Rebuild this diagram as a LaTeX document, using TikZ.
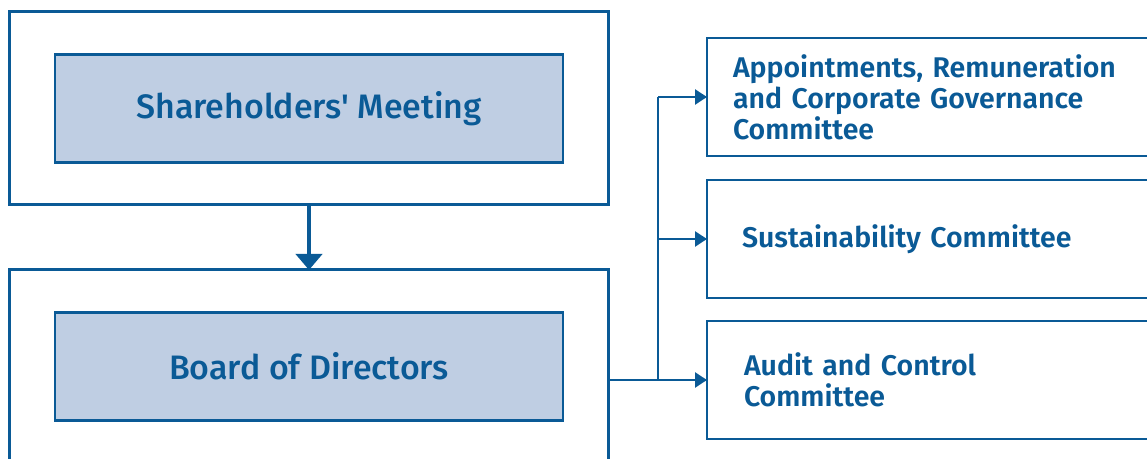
\documentclass[tikz,border=0pt]{standalone}
\usepackage{fontspec}
\setmainfont{Fira Sans}[BoldFont={Fira Sans SemiBold}]
\newfontfamily\medfont{Fira Sans Medium}
\usetikzlibrary{arrows.meta,positioning}
\definecolor{enblue}{RGB}{10,90,150}
\definecolor{enfill}{RGB}{191,206,227}

\begin{document}
\begin{tikzpicture}
\tikzstyle{outer}=[rectangle,draw=enblue,line width=0.06cm,
minimum width=11.96cm,minimum height=3.86cm,outer sep=0pt,node distance=5.16cm]
\tikzstyle{inner}=[rectangle,draw=enblue,fill=enfill,line width=0.05cm,
minimum width=10.16cm,minimum height=2.16cm,outer sep=0pt,
text=enblue,font=\fontsize{19.3}{22}\selectfont\medfont]
\tikzstyle{comm}=[rectangle,draw=enblue,line width=0.05cm,
minimum height=2.36cm,text width=8.4cm,align=left,outer sep=0pt,
text=enblue,font=\fontsize{16.2}{17.6}\selectfont\bfseries]
\tikzstyle{conn}=[draw=enblue,line width=0.05cm]

\clip (0,0) rectangle (22.94,9.18);
\node[outer] at (6.18,7.01) (sh) {};
\node[inner] at (sh) (shi) {Shareholders' Meeting};
\node[outer,below of =sh] (bd) {};
\node[inner] at (bd) (bdi) {Board of Directors};

\node[comm,anchor=west,inner xsep=0.52cm] at (14.14,7.24) (arc) {Appointments, Remuneration\\ and Corporate Governance\\ Committee};
\node[comm,below=0.48cm of arc.south west,anchor=north west,inner xsep=0.7cm] (sc) {Sustainability Committee};
\node[comm,below=0.46cm of sc.south west,anchor=north west,inner xsep=0.74cm] (acc) {Audit and Control\\ Committee};

\coordinate (tr) at (13.16,0);

\draw[conn,line width=0.08cm,-{Triangle[length=0.32cm,width=0.52cm]}] (sh.south) -- (bd.north);
\draw[conn] (acc.west -| tr) -- (arc.west -| tr);
\draw[conn,-{Triangle[length=0.24cm,width=0.3cm]}] (bd.east |- acc.west) -- (acc.west);
\draw[conn,-{Triangle[length=0.24cm,width=0.3cm]}] (sc.west -| tr) -- (sc.west);
\draw[conn,-{Triangle[length=0.24cm,width=0.3cm]}] (arc.west -| tr) -- (arc.west);

\end{tikzpicture}
\end{document}
